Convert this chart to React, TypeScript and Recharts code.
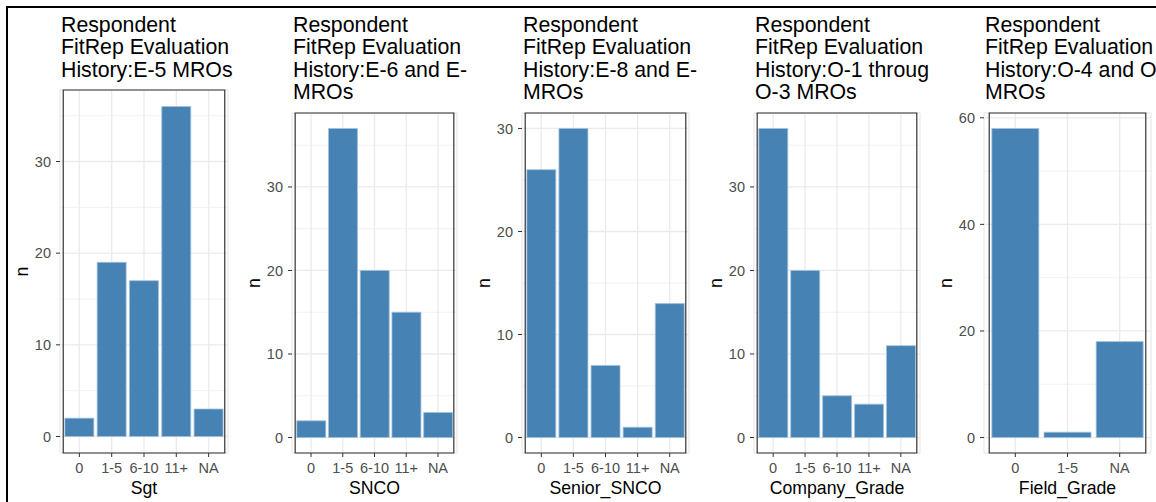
import React from 'react';
import { BarChart, Bar, XAxis, YAxis, CartesianGrid, ReferenceArea } from 'recharts';

// ---------- data ----------
const cats5 = ['0', '1-5', '6-10', '11+', 'NA'];
const cats3 = ['0', '1-5', 'NA'];

const sgtValues = [2, 19, 17, 36, 3];
const sncoValues = [2, 37, 20, 15, 3];
const seniorSncoValues = [26, 30, 7, 1, 13];
const companyGradeValues = [37, 20, 5, 4, 11];
const fieldGradeValues = [58, 1, 18];

const ticksBy10 = [0, 10, 20, 30];
const minorBy10 = [5, 15, 25, 35];
const ticksBy20 = [0, 20, 40, 60];
const minorBy20 = [10, 30, 50];

const title1 = ['Respondent', 'FitRep Evaluation', 'History:E-5 MROs'];
const title2 = ['Respondent', 'FitRep Evaluation', 'History:E-6 and E-', 'MROs'];
const title3 = ['Respondent', 'FitRep Evaluation', 'History:E-8 and E-', 'MROs'];
const title4 = ['Respondent', 'FitRep Evaluation', 'History:O-1 throug', 'O-3 MROs'];
const title5 = ['Respondent', 'FitRep Evaluation', 'History:O-4 and O', 'MROs'];

const xTitles = ['Sgt', 'SNCO', 'Senior_SNCO', 'Company_Grade', 'Field_Grade'];

// ---------- layout ----------
const FONT = '"Liberation Sans", Arial, "DejaVu Sans", sans-serif';
const TITLE_SIZE = 21.3;
const AXIS_TITLE_SIZE = 17.7;
const TICK_SIZE = 14.5;
const TICK_COLOR = '#4D4D4D';
const PLOT_BOTTOM = 453;
const M_TOP = 8;
const M_LEFT = 22;
const M_RIGHT = 4;
const Y_W = 30;
const X_H = 46;

type Box = { l: number; r: number; t: number };

const boxes: Box[] = [
  { l: 60, r: 228, t: 90 },
  { l: 292, r: 457, t: 113 },
  { l: 522, r: 689, t: 113 },
  { l: 754, r: 920, t: 113 },
  { l: 984, r: 1151, t: 113 },
];

const tickTextStyle = { fontSize: `${TICK_SIZE}px`, fontFamily: FONT };

const XTick = (props: any) => {
  const { x, y, payload } = props;
  return (
    <text
      x={x}
      y={y + TICK_SIZE * 0.72}
      textAnchor="middle"
      fontSize={TICK_SIZE}
      fontFamily={FONT}
      fill={TICK_COLOR}
      style={tickTextStyle}
    >
      {payload.value}
    </text>
  );
};

const YTick = (props: any) => {
  const { x, y, payload } = props;
  return (
    <text
      x={x}
      y={y + TICK_SIZE * 0.36}
      textAnchor="end"
      fontSize={TICK_SIZE}
      fontFamily={FONT}
      fill={TICK_COLOR}
      style={tickTextStyle}
    >
      {payload.value}
    </text>
  );
};

const XTitle = (props: any) => {
  const vb = props.viewBox || {};
  return (
    <text
      x={vb.x + vb.width / 2}
      y={vb.y + 41}
      textAnchor="middle"
      fontSize={AXIS_TITLE_SIZE}
      fontFamily={FONT}
      fill="#000"
    >
      {props.text}
    </text>
  );
};

const YTitle = (props: any) => {
  const vb = props.viewBox || {};
  const x = vb.x + vb.width - 32.5;
  const y = vb.y + vb.height / 2;
  return (
    <text
      x={x}
      y={y}
      textAnchor="middle"
      fontSize={AXIS_TITLE_SIZE}
      fontFamily={FONT}
      fill="#000"
      transform={`rotate(-90, ${x}, ${y})`}
    >
      n
    </text>
  );
};

type PanelProps = {
  box: Box;
  title: string[];
  xTitle: string;
  cats: string[];
  values: number[];
  ticks: number[];
  minor: number[];
};

const Panel = ({ box, title, xTitle, cats, values, ticks, minor }: PanelProps) => {
  const data = cats.map((c, i) => ({ cat: c, n: values[i] }));
  const maxV = Math.max(...values);
  const lo = -0.05 * maxV;
  const hi = 1.05 * maxV;
  const plotW = box.r - box.l;
  const plotH = PLOT_BOTTOM - box.t;
  const pad = (0.1 * plotW) / (cats.length + 0.2);
  const width = plotW + M_LEFT + Y_W + M_RIGHT;
  const height = M_TOP + plotH + X_H;
  const left = box.l - Y_W - M_LEFT;
  const top = box.t - M_TOP;
  return (
    <>
      <div
        style={{
          position: 'absolute',
          left: box.l + 1,
          top: 13.5,
          fontFamily: FONT,
          fontSize: TITLE_SIZE,
          lineHeight: '22.6px',
          color: '#000',
          whiteSpace: 'pre',
        }}
      >
        {title.join('\n')}
      </div>
      <div style={{ position: 'absolute', left, top }}>
        <BarChart
          width={width}
          height={height}
          data={data}
          margin={{ top: M_TOP, right: M_RIGHT, bottom: 0, left: M_LEFT }}
          barCategoryGap="5%"
        >
          <CartesianGrid
            vertical={false}
            horizontalValues={minor}
            stroke="#F2F2F2"
            strokeWidth={1}
          />
          <CartesianGrid stroke="#EBEBEB" strokeWidth={1.3} />
          <XAxis
            dataKey="cat"
            type="category"
            interval={0}
            padding={{ left: pad, right: pad }}
            height={X_H}
            axisLine={false}
            tickLine={{ stroke: '#333333' }}
            tickSize={4}
            tickMargin={6}
            tick={<XTick />}
            label={<XTitle text={xTitle} />}
          />
          <YAxis
            type="number"
            domain={[lo, hi]}
            ticks={ticks}
            width={Y_W}
            axisLine={false}
            tickLine={{ stroke: '#333333' }}
            tickSize={4}
            tickMargin={5}
            tick={<YTick />}
            label={<YTitle />}
          />
          <Bar dataKey="n" fill="#4682B4" stroke="#A3C1DC" strokeWidth={0.8} isAnimationActive={false} />
          <ReferenceArea y1={lo} y2={hi} fill="none" stroke="#333333" strokeWidth={1.2} />
        </BarChart>
      </div>
    </>
  );
};

export default function App() {
  const panels = [
    { title: title1, cats: cats5, values: sgtValues, ticks: ticksBy10, minor: minorBy10 },
    { title: title2, cats: cats5, values: sncoValues, ticks: ticksBy10, minor: minorBy10 },
    { title: title3, cats: cats5, values: seniorSncoValues, ticks: ticksBy10, minor: minorBy10 },
    { title: title4, cats: cats5, values: companyGradeValues, ticks: ticksBy10, minor: minorBy10 },
    { title: title5, cats: cats3, values: fieldGradeValues, ticks: ticksBy20, minor: minorBy20 },
  ];
  return (
    <div
      style={{
        position: 'fixed',
        left: 0,
        top: 0,
        width: 1156,
        height: 502,
        overflow: 'hidden',
        background: '#fff',
      }}
    >
      <div
        style={{
          position: 'absolute',
          left: 6,
          top: 6,
          width: 1300,
          height: 700,
          borderTop: '2px solid #000',
          borderLeft: '2px solid #000',
        }}
      />
      {panels.map((p, i) => (
        <Panel
          key={i}
          box={boxes[i]}
          title={p.title}
          xTitle={xTitles[i]}
          cats={p.cats}
          values={p.values}
          ticks={p.ticks}
          minor={p.minor}
        />
      ))}
    </div>
  );
}
